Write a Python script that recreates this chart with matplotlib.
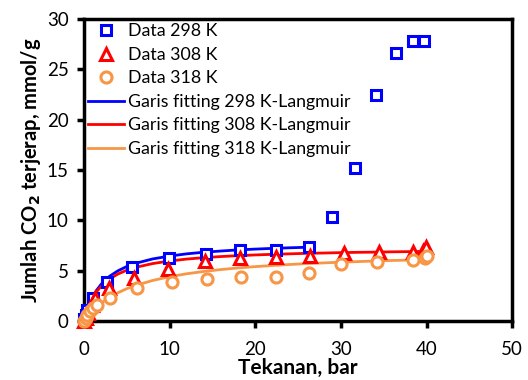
import matplotlib
matplotlib.use("Agg")
import matplotlib.pyplot as plt

plt.rcParams['font.family'] = ['Lato', 'DejaVu Sans']

# data points (pressure in bar, uptake in mmol/g)
p298 = [0.05, 0.2, 0.4, 1.0, 2.7, 5.6, 9.9, 14.2, 18.2, 22.4, 26.3, 29.0, 31.6, 34.1, 36.4, 38.4, 39.7]
q298 = [0.2, 0.6, 1.1, 2.3, 3.9, 5.4, 6.3, 6.7, 7.1, 7.05, 7.4, 10.3, 15.2, 22.5, 26.6, 27.8, 27.8]

p308 = [0.05, 0.2, 0.5, 0.9, 1.3, 2.9, 5.8, 9.8, 14.1, 18.2, 22.4, 26.4, 30.4, 34.4, 38.4, 39.6, 39.9]
q308 = [0.05, 0.3, 0.8, 1.6, 2.3, 3.25, 4.25, 5.2, 6.0, 6.3, 6.4, 6.45, 6.8, 6.9, 6.9, 7.0, 7.4]

p318 = [0.05, 0.2, 0.4, 0.7, 1.0, 1.5, 3.0, 6.2, 10.3, 14.4, 18.3, 22.4, 26.3, 30.0, 34.2, 38.4, 39.8, 40.0]
q318 = [0.05, 0.3, 0.6, 1.0, 1.3, 1.6, 2.25, 3.25, 3.9, 4.15, 4.35, 4.35, 4.75, 5.7, 5.9, 6.1, 6.3, 6.5]

# fitted Langmuir curves
pfit_a = [0, 0.25, 0.5, 1, 1.5, 2, 3, 4, 5, 6, 8, 10, 12, 14, 16, 18, 20, 22, 24, 26.3]
qfit298 = [0, 0.76, 1.39, 2.37, 3.09, 3.65, 4.46, 5.01, 5.42, 5.73, 6.17, 6.46, 6.68,
           6.84, 6.96, 7.07, 7.15, 7.22, 7.28, 7.34]

pfit_b = [0, 0.25, 0.5, 1, 1.5, 2, 3, 4, 5, 6, 8, 10, 12, 14, 16, 18, 20, 22, 24, 26,
          28, 30, 32, 34, 36, 38, 40]
qfit308 = [0, 0.74, 1.34, 2.27, 2.94, 3.46, 4.19, 4.69, 5.05, 5.33, 5.71, 5.97, 6.16,
           6.30, 6.41, 6.50, 6.57, 6.63, 6.68, 6.73, 6.76, 6.80, 6.83, 6.85, 6.88, 6.90, 6.92]
qfit318 = [0, 0.29, 0.55, 1.02, 1.42, 1.78, 2.36, 2.83, 3.22, 3.53, 4.03, 4.41, 4.70,
           4.93, 5.12, 5.28, 5.41, 5.52, 5.62, 5.71, 5.78, 5.85, 5.91, 5.97, 6.02, 6.06, 6.10]

blue = '#0000FF'
red = '#FF0000'
orange = '#F79646'

fig = plt.figure(figsize=(5.28, 3.8), dpi=100)
ax = fig.add_axes([0.159, 0.155, 0.811, 0.795])

ms = 7
mew = 2.2
ax.plot(p298, q298, 's', ms=ms, mfc='white', mec=blue, mew=mew, label='Data 298 K', zorder=3, clip_on=False)
ax.plot(p308, q308, '^', ms=ms + 1, mfc='white', mec=red, mew=mew, label='Data 308 K', zorder=3, clip_on=False)
ax.plot(p318, q318, 'o', ms=ms + 1, mfc='white', mec=orange, mew=mew, label='Data 318 K', zorder=3, clip_on=False)
ax.plot(pfit_a, qfit298, '-', color=blue, lw=2, label='Garis fitting 298 K-Langmuir', zorder=2)
ax.plot(pfit_b, qfit308, '-', color=red, lw=2, label='Garis fitting 308 K-Langmuir', zorder=2)
ax.plot(pfit_b, qfit318, '-', color=orange, lw=2, label='Garis fitting 318 K-Langmuir', zorder=2)

ax.set_xlim(0, 50)
ax.set_ylim(0, 30)
ax.set_xticks([0, 10, 20, 30, 40, 50])
ax.set_yticks([0, 5, 10, 15, 20, 25, 30])
for s in ax.spines.values():
    s.set_linewidth(2.5)
ax.tick_params(direction='out', width=2.5, length=5, labelsize=13.5)
ax.tick_params(axis='x', pad=9)
ax.tick_params(axis='y', pad=6)

ax.set_xlabel('Tekanan, bar', fontsize=15, fontweight='bold', labelpad=0)
ax.set_ylabel('Jumlah CO$_\\mathbf{2}$ terjerap, mmol/g', fontsize=14.5, fontweight='bold', labelpad=3)

ax.legend(loc='upper left', bbox_to_anchor=(0.0, 1.0), frameon=False, fontsize=12.8,
          handlelength=2.0, handletextpad=0.25, labelspacing=0.42, borderaxespad=0.0,
          borderpad=0.25)

fig.savefig('out.png', dpi=100)
